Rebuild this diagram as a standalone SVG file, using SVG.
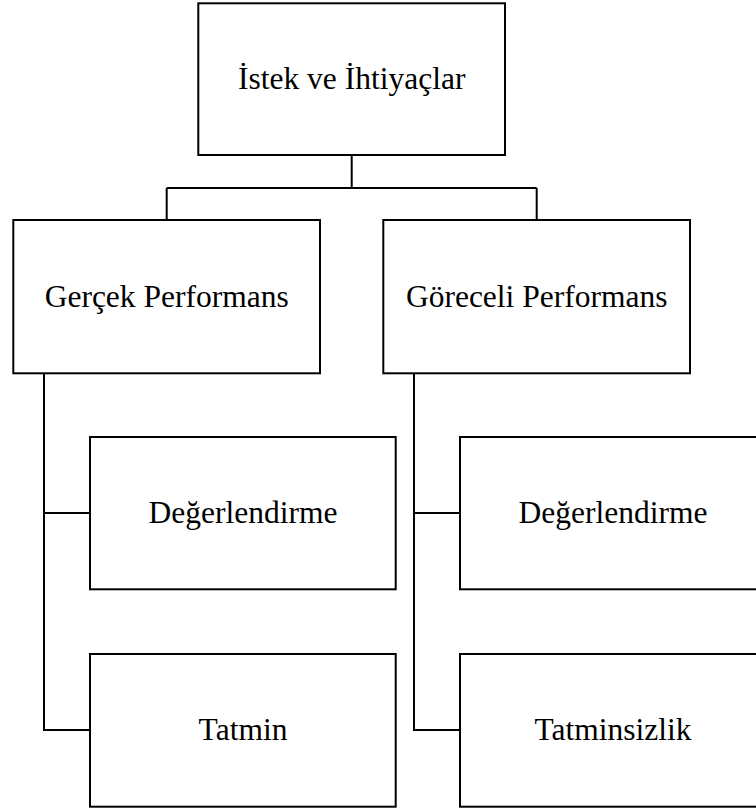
<svg xmlns="http://www.w3.org/2000/svg" width="756" height="812" viewBox="0 0 756 812">
<style>
.box{fill:#fff;stroke:#000;stroke-width:2}
.lbl{font-family:"Liberation Serif","Times New Roman",serif;font-size:31.5px;fill:#000;text-anchor:middle}
.con{fill:none;stroke:#000;stroke-width:2}
</style>
<rect width="756" height="812" fill="#fff"/>
<g id="connectors">
<path class="con" d="M351.7,155 V188 M166.7,188 H536.7 M166.7,188 V220 M536.7,188 V220"/>
<path class="con" d="M44,373 V730 H90 M44,513 H90"/>
<path class="con" d="M414,373 V730 H460 M414,513 H460"/>
</g>
<g id="istek">
<rect class="box" x="198.3" y="3.3" width="306.7" height="151.7"/>
<text class="lbl" x="351.7" y="89.3">İstek ve İhtiyaçlar</text>
</g>
<g id="gercek">
<rect class="box" x="13.3" y="220" width="306.7" height="153.3"/>
<text class="lbl" x="166.7" y="307.3">Gerçek Performans</text>
</g>
<g id="goreceli">
<rect class="box" x="383.3" y="220" width="306.7" height="153.3"/>
<text class="lbl" x="536.7" y="307.3">Göreceli Performans</text>
</g>
<g id="degerlendirme1">
<rect class="box" x="90" y="437" width="305.7" height="152.3"/>
<text class="lbl" x="243" y="523.3">Değerlendirme</text>
</g>
<g id="tatmin">
<rect class="box" x="90" y="654" width="305.7" height="152.7"/>
<text class="lbl" x="243" y="740">Tatmin</text>
</g>
<g id="degerlendirme2">
<rect class="box" x="460" y="437" width="305.7" height="152.3"/>
<text class="lbl" x="613" y="523.3">Değerlendirme</text>
</g>
<g id="tatminsizlik">
<rect class="box" x="460" y="654" width="305.7" height="152.7"/>
<text class="lbl" x="613" y="740">Tatminsizlik</text>
</g>
</svg>
